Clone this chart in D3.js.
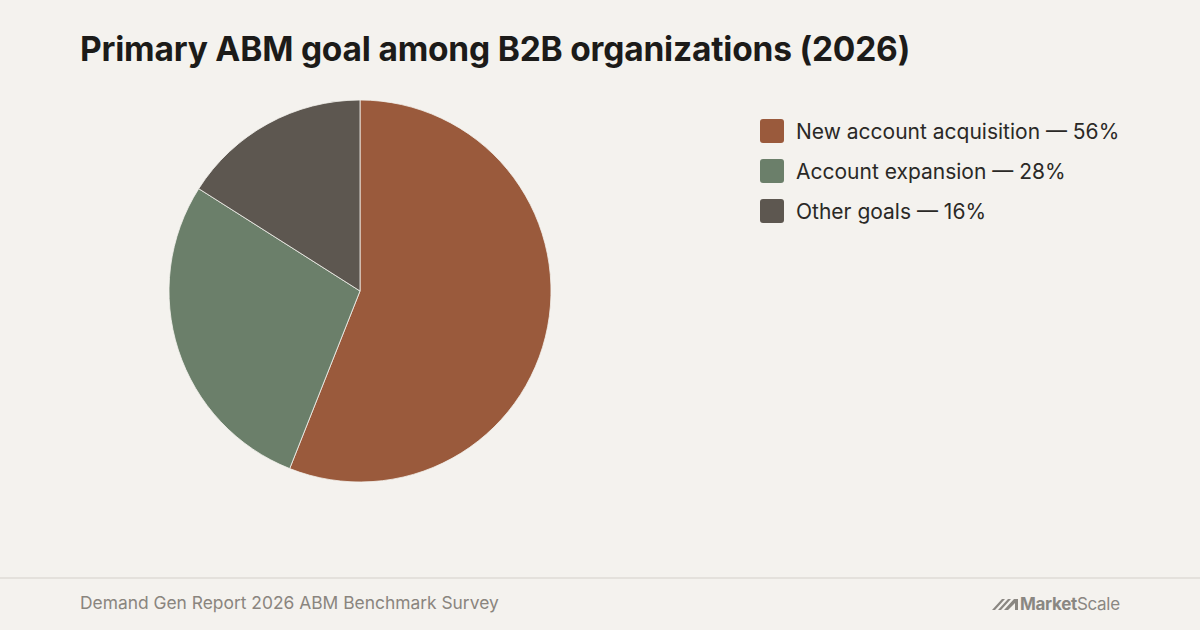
<!DOCTYPE html>
<html>
<head>
<meta charset="utf-8">
<script src="https://cdn.jsdelivr.net/npm/d3@7"></script>
<style>
  html, body { margin: 0; padding: 0; background: #f4f2ee; }
  svg { display: block; font-family: Inter, "Noto Sans", sans-serif; }
</style>
</head>
<body>
<div id="chart"></div>
<script>
// Data
const labels = ["New account acquisition", "Account expansion", "Other goals"];
const values = [56, 28, 16];
const colors = ["#9a5a3c", "#6b7f6a", "#5d5750"];

const width = 1200, height = 630;
const svg = d3.select("#chart").append("svg")
    .attr("width", width)
    .attr("height", height);

svg.append("rect")
    .attr("width", width)
    .attr("height", height)
    .attr("fill", "#f4f2ee");

// Title
svg.append("text")
    .attr("x", 80)
    .attr("y", 61)
    .style("font-size", "33.5px")
    .style("font-weight", "700")
    .style("letter-spacing", "-0.2px")
    .attr("fill", "#1c1b19")
    .text("Primary ABM goal among B2B organizations (2026)");

// Pie
const radius = 191;
const pie = d3.pie().sort(null).value(d => d);
const arc = d3.arc().innerRadius(0).outerRadius(radius);

const g = svg.append("g")
    .attr("transform", `translate(360,291)`);

g.selectAll("path")
    .data(pie(values))
    .enter().append("path")
    .attr("d", arc)
    .attr("fill", (d, i) => colors[i])
    .attr("stroke", "#f4f2ee")
    .attr("stroke-width", 0.8);

// Legend
const legend = svg.append("g")
    .attr("transform", "translate(760,119)");

const item = legend.selectAll("g")
    .data(labels)
    .enter().append("g")
    .attr("transform", (d, i) => `translate(0,${i * 40})`);

item.append("rect")
    .attr("width", 24)
    .attr("height", 24)
    .attr("rx", 3)
    .attr("fill", (d, i) => colors[i]);

item.append("text")
    .attr("x", 36)
    .attr("y", 12)
    .attr("dy", "0.36em")
    .style("font-size", "21px")
    .attr("fill", "#2a2926")
    .text((d, i) => `${d} \u2014 ${values[i]}%`);

// Footer
svg.append("line")
    .attr("x1", 0).attr("x2", width)
    .attr("y1", 578).attr("y2", 578)
    .attr("stroke", "#e4e1dc")
    .attr("stroke-width", 2);

svg.append("text")
    .attr("x", 80)
    .attr("y", 609)
    .style("font-size", "17.4px")
    .attr("fill", "#8a857e")
    .text("Demand Gen Report 2026 ABM Benchmark Survey");

// MarketScale logo
const logo = svg.append("g").attr("fill", "#8a8782");
logo.append("path")
    .attr("d", "M992,610 L1002,599 L1005,599 L995,610 Z M998,610 L1008,599 L1011,599 L1001,610 Z M1004,610 L1014,599 L1018,599 L1018,610 L1015,610 L1015,603 L1008,610 Z");
const logoText = logo.append("text")
    .attr("x", 1020)
    .attr("y", 610)
    .style("font-size", "17px")
    .style("letter-spacing", "-0.3px");
logoText.append("tspan").style("font-weight", "700").text("Market");
logoText.append("tspan").style("font-weight", "400").text("Scale");
</script>
</body>
</html>
